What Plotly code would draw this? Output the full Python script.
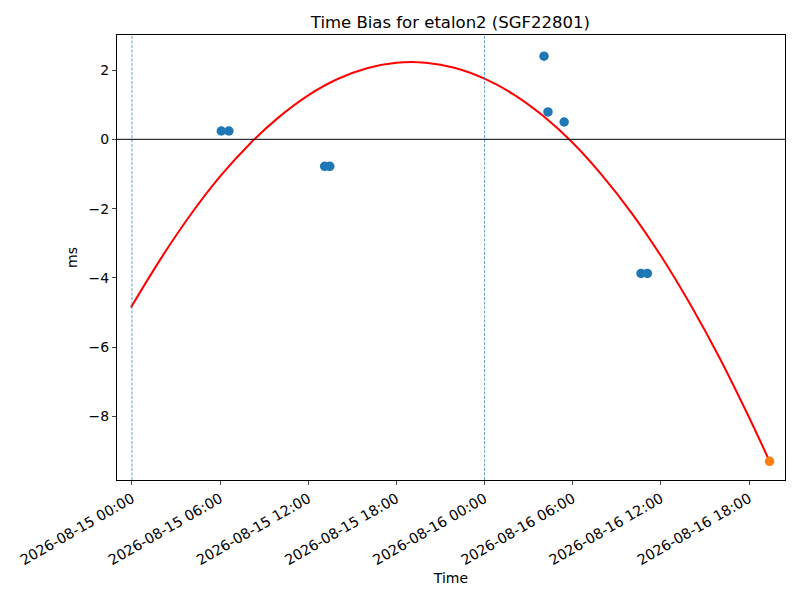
import plotly.graph_objects as go

# measured time bias points (ms)
obs_time = [
    "2026-08-15 06:05", "2026-08-15 06:36",
    "2026-08-15 13:07", "2026-08-15 13:28",
    "2026-08-16 04:03", "2026-08-16 04:19", "2026-08-16 05:25",
    "2026-08-16 10:39", "2026-08-16 11:05",
]
obs_bias = [0.24, 0.24, -0.78, -0.78, 2.40, 0.79, 0.50, -3.87, -3.87]

# latest point (orange)
last_time = ["2026-08-16 19:24"]
last_bias = [-9.29]

# fitted curve
fit_time = [
    "2026-08-14 23:56", "2026-08-15 02:00", "2026-08-15 04:00", "2026-08-15 06:00",
    "2026-08-15 08:00", "2026-08-15 10:00", "2026-08-15 12:00", "2026-08-15 14:00",
    "2026-08-15 16:00", "2026-08-15 18:00", "2026-08-15 20:00", "2026-08-15 22:00",
    "2026-08-16 00:00", "2026-08-16 02:00", "2026-08-16 04:00", "2026-08-16 06:00",
    "2026-08-16 08:00", "2026-08-16 10:00", "2026-08-16 12:00", "2026-08-16 14:00",
    "2026-08-16 16:00", "2026-08-16 18:00", "2026-08-16 19:24",
]
fit_bias = [
    -4.85, -3.42, -2.17, -1.07, -0.14, 0.64, 1.27, 1.74, 2.05, 2.21, 2.21, 2.06,
    1.75, 1.29, 0.67, -0.10, -1.04, -2.12, -3.36, -4.76, -6.31, -8.02, -9.29,
]

# day boundaries
day_marks = ["2026-08-15 00:00", "2026-08-16 00:00"]

x_range = ["2026-08-14 22:59", "2026-08-16 20:27"]
y_range = [-9.83, 3.01]

fig = go.Figure()

for d in day_marks:
    fig.add_vline(x=d, line=dict(color="#1f77b4", width=0.7, dash="3px,1.5px"))
fig.add_hline(y=0, line=dict(color="black", width=1))

fig.add_trace(go.Scatter(x=fit_time, y=fit_bias, mode="lines",
                         line=dict(color="red", width=2, shape="spline")))
fig.add_trace(go.Scatter(x=obs_time, y=obs_bias, mode="markers",
                         marker=dict(color="#1f77b4", size=9.5)))
fig.add_trace(go.Scatter(x=last_time, y=last_bias, mode="markers",
                         marker=dict(color="#ff7f0e", size=9.5)))

fig.update_xaxes(range=x_range, type="date", tick0="2026-08-15 00:00", dtick=6 * 3600 * 1000,
                 tickformat="%Y-%m-%d %H:%M", tickangle=-30, automargin=False,
                 showgrid=False, zeroline=False, mirror=True, ticks="outside", ticklen=4,
                 showline=True, linecolor="black", linewidth=1, tickfont=dict(size=14.3),
                 title=dict(text="Time", standoff=5, font=dict(size=14)))
fig.update_yaxes(range=y_range, dtick=2, showgrid=False, zeroline=False, mirror=True,
                 ticks="outside", ticklen=4, showline=True, linecolor="black", linewidth=1,
                 automargin=False, tickfont=dict(size=14),
                 title=dict(text="ms", standoff=7, font=dict(size=14)))

# page body adds an 8px offset, margins compensate for it
fig.update_layout(
    width=800, height=600,
    showlegend=False,
    title=dict(text="Time Bias for etalon2 (SGF22801)", x=0.553, xanchor="center",
               y=0.977, yanchor="middle", font=dict(size=16.5)),
    font=dict(family="DejaVu Sans", size=14, color="black"),
    plot_bgcolor="white", paper_bgcolor="white",
    margin=dict(l=109, r=23, t=27, b=128),
)
fig.write_html("out.html")
